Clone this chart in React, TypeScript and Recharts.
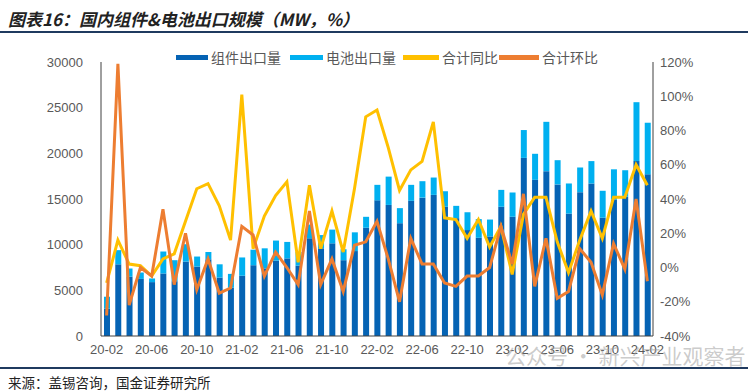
import { ComposedChart, Bar, Line, XAxis, YAxis } from "recharts";

const months = [
  "20-02", "20-03", "20-04", "20-05", "20-06", "20-07", "20-08", "20-09", "20-10", "20-11", "20-12",
  "21-01", "21-02", "21-03", "21-04", "21-05", "21-06", "21-07", "21-08", "21-09", "21-10", "21-11", "21-12",
  "22-01", "22-02", "22-03", "22-04", "22-05", "22-06", "22-07", "22-08", "22-09", "22-10", "22-11", "22-12",
  "23-01", "23-02", "23-03", "23-04", "23-05", "23-06", "23-07", "23-08", "23-09", "23-10", "23-11", "23-12",
  "24-01", "24-02",
];

// 组件出口量 (MW)
const moduleExport = [
  3000, 7850, 6500, 6250, 5900, 6850, 6000, 8150, 7600, 8400, 6400,
  5300, 6600, 7750, 7400, 8250, 8500, 7700, 10700, 9600, 10150, 8300, 9300,
  11850, 14850, 14350, 12350, 14800, 15150, 15450, 14150, 12900, 11600, 10750, 10900,
  14150, 13050, 19500, 17100, 18050, 16600, 13400, 15750, 16700, 12950, 14950, 15250,
  19150, 17700,
];

// 电池出口量 (MW)
const cellExport = [
  1300, 1550, 900, 700, 400, 2400, 2300, 1900, 1100, 800, 1450,
  1500, 2000, 1700, 2200, 2200, 1800, 1500, 1500, 1450, 1500, 1200, 2050,
  1200, 1700, 3100, 1650, 1750, 1800, 1900, 1700, 1350, 1950, 2050, 1850,
  1850, 2650, 3050, 2850, 5400, 2650, 3300, 2700, 2450, 2950, 3300, 2900,
  6450, 5650,
];

// 合计同比 (%)
const totalYoy = [
  -9, 16, 2, 1, -5, 5, 8, 27, 46, 49, 36,
  16, 101, 11, 30, 42, 50, 3, 48, 11, 33, 9, 46,
  88, 92, 70, 45, 57, 62, 85, 29, 28, 17, 28, 12,
  24, -4, 31, 41, 41, 15, -3, 16, 33, 17, 41, 41,
  60, 48,
];

// 合计环比 (%)
const totalMom = [
  -28, 119, -22, 0, -5, 34, -10, 20, -13, 5, -15,
  -12, 24, 19, -5, 9, 0, -10, 33, -10, 5, -14, 13,
  15, 27, 5, -20, 17, 2, 2, -9, -11, -5, -5, 0,
  24, 2, 43, -11, 17, -18, -14, 11, 3, -16, 14, -1,
  40, -8,
];

const leftTicks = [0, 5000, 10000, 15000, 20000, 25000, 30000];
const rightTicks = [-40, -20, 0, 20, 40, 60, 80, 100, 120];

const data = months.map((m, i) => ({
  m,
  module: moduleExport[i],
  cell: cellExport[i],
  yoy: totalYoy[i],
  mom: totalMom[i],
}));

const DARK = "#0563B4";
const LIGHT = "#00B0F0";
const YELLOW = "#FFC000";
const ORANGE = "#ED7D31";
const NAVY = "#1F3A5F";
const GRAY = "#595959";
const FONT = "'Liberation Sans', Arial, sans-serif";
const CJK = "'Noto Sans CJK SC', sans-serif";

const legendItems = [
  { label: "组件出口量", color: DARK, x: 176, w: 32 },
  { label: "电池出口量", color: LIGHT, x: 290, w: 33 },
  { label: "合计同比", color: YELLOW, x: 403, w: 36 },
  { label: "合计环比", color: ORANGE, x: 499, w: 40 },
];

const tickStyle = { fontSize: 13, fill: GRAY, fontFamily: FONT };

export default function App() {
  return (
    <div style={{ position: "relative", width: 754, height: 391, background: "#fff", overflow: "hidden" }}>
      <style>{`body{margin:0}`}</style>
      <div
        style={{
          position: "absolute", left: 8, top: 6, fontFamily: CJK, fontWeight: 700,
          fontStyle: "italic", fontSize: 17, color: "#222", whiteSpace: "nowrap",
        }}
      >
        图表16：国内组件&amp;电池出口规模（MW，%）
      </div>
      <div style={{ position: "absolute", left: 0, top: 31, width: 748, height: 1.5, background: NAVY }} />

      {legendItems.map((it) => (
        <div key={it.label} style={{ position: "absolute", left: it.x, top: 48, height: 18, display: "flex", alignItems: "center" }}>
          <div style={{ width: it.w, height: 5, background: it.color }} />
          <span style={{ marginLeft: 3, fontFamily: CJK, fontSize: 14, color: GRAY, lineHeight: "18px" }}>{it.label}</span>
        </div>
      ))}

      <div style={{ position: "absolute", left: 0, top: 0 }}>
        <ComposedChart width={754} height={391} data={data} margin={{ top: 62, right: 0, bottom: 0, left: 0 }} barCategoryGap={0}>
          <XAxis
            dataKey="m"
            interval={3}
            tickLine={false}
            tickSize={0}
            tickMargin={9}
            axisLine={{ stroke: "#404040" }}
            tick={tickStyle}
            height={55}
          />
          <YAxis
            yAxisId="mw"
            orientation="left"
            width={101}
            domain={[0, 30000]}
            ticks={leftTicks}
            tickLine={false}
            tickSize={0}
            tickMargin={18}
            axisLine={{ stroke: "#404040" }}
            tick={tickStyle}
          />
          <YAxis
            yAxisId="pct"
            orientation="right"
            width={101}
            domain={[-40, 120]}
            ticks={rightTicks}
            tickFormatter={(v: number) => `${v}%`}
            tickLine={false}
            tickSize={0}
            tickMargin={7}
            axisLine={{ stroke: "#404040" }}
            tick={tickStyle}
          />
          <Bar yAxisId="mw" dataKey="module" stackId="a" fill={DARK} barSize={6} isAnimationActive={false} />
          <Bar yAxisId="mw" dataKey="cell" stackId="a" fill={LIGHT} barSize={6} isAnimationActive={false} />
          <Line yAxisId="pct" dataKey="yoy" type="linear" stroke={YELLOW} strokeWidth={3} dot={false} isAnimationActive={false} />
          <Line yAxisId="pct" dataKey="mom" type="linear" stroke={ORANGE} strokeWidth={3} dot={false} isAnimationActive={false} />
        </ComposedChart>
      </div>

      <div
        style={{
          position: "absolute", left: 505, top: 340, fontFamily: CJK, fontSize: 21,
          color: "rgba(160,160,160,0.55)", whiteSpace: "nowrap",
        }}
      >
        公众号 · 新兴产业观察者
      </div>
      <div style={{ position: "absolute", left: 0, top: 367, width: 748, height: 1.5, background: NAVY }} />
      <div style={{ position: "absolute", left: 8, top: 372, fontFamily: CJK, fontSize: 13.5, color: "#222", whiteSpace: "nowrap" }}>
        来源：盖锡咨询，国金证券研究所
      </div>
    </div>
  );
}
